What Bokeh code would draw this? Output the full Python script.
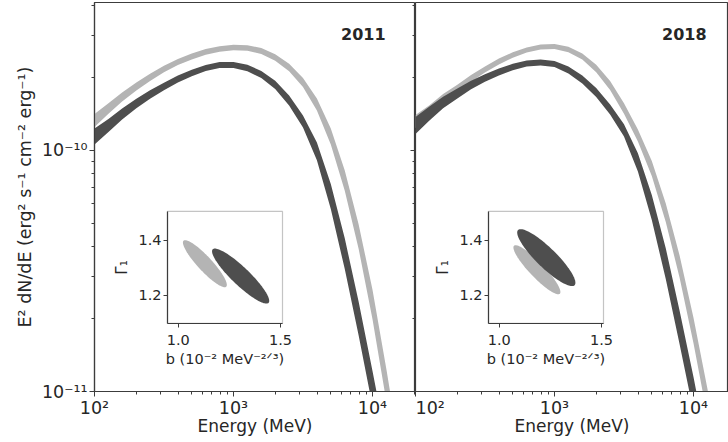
import numpy as np
from bokeh.plotting import figure
from bokeh.layouts import row
from bokeh.models import (Range1d, LinearScale, LogAxis, LinearAxis, FixedTicker,
                          CustomJSTickFormatter, BoxAnnotation, Label)
from bokeh.embed import file_html
from bokeh.resources import INLINE

# ---------------- data ----------------
years = ["2011", "2018"]

energy_dark = [100, 126, 158, 200, 251, 316, 398, 501, 631, 794, 1000, 1259, 1585, 1995,
               2512, 3162, 3981, 5012, 6310, 7943, 10000, 12589]
energy_light = energy_dark + [15849]

flux_dark_2011 = [1.143e-10, 1.270e-10, 1.418e-10, 1.567e-10, 1.707e-10, 1.843e-10, 1.980e-10,
                  2.097e-10, 2.199e-10, 2.263e-10, 2.263e-10, 2.199e-10, 2.067e-10, 1.870e-10,
                  1.612e-10, 1.319e-10, 9.91e-11, 6.44e-11, 3.74e-11, 2.009e-11, 1.029e-11, 5.17e-12]
unc_dark_2011 = [0.0332, 0.0270, 0.0228, 0.0199, 0.0174, 0.0158, 0.0145, 0.0137, 0.0129, 0.0124,
                 0.0124, 0.0133, 0.0145, 0.0170, 0.0205, 0.0245, 0.0370, 0.0520, 0.0640, 0.0700,
                 0.0730, 0.0730]
flux_light_2011 = [1.332e-10, 1.494e-10, 1.667e-10, 1.843e-10, 2.009e-10, 2.179e-10, 2.329e-10,
                   2.455e-10, 2.563e-10, 2.638e-10, 2.676e-10, 2.663e-10, 2.588e-10, 2.431e-10,
                   2.210e-10, 1.915e-10, 1.552e-10, 1.143e-10, 7.51e-11, 4.40e-11, 2.296e-11,
                   1.059e-11, 4.70e-12]
unc_light_2011 = [0.0270, 0.0220, 0.0187, 0.0166, 0.0149, 0.0137, 0.0129, 0.0124, 0.0120, 0.0116,
                  0.0116, 0.0116, 0.0124, 0.0137, 0.0158, 0.0185, 0.0250, 0.0330, 0.0420, 0.0510,
                  0.0610, 0.0670, 0.0690]

flux_dark_2018 = [1.270e-10, 1.424e-10, 1.582e-10, 1.724e-10, 1.870e-10, 1.999e-10, 2.117e-10,
                  2.221e-10, 2.296e-10, 2.318e-10, 2.285e-10, 2.158e-10, 1.970e-10, 1.740e-10,
                  1.479e-10, 1.211e-10, 8.92e-11, 5.80e-11, 3.40e-11, 1.843e-11, 9.72e-12, 4.93e-12]
unc_dark_2018 = [0.0353, 0.0290, 0.0241, 0.0207, 0.0178, 0.0158, 0.0145, 0.0133, 0.0124, 0.0124,
                 0.0124, 0.0145, 0.0162, 0.0187, 0.0210, 0.0255, 0.0380, 0.0520, 0.0640, 0.0690,
                 0.0720, 0.0730]
flux_light_2018 = [1.319e-10, 1.466e-10, 1.643e-10, 1.808e-10, 1.990e-10, 2.168e-10, 2.340e-10,
                   2.490e-10, 2.612e-10, 2.689e-10, 2.702e-10, 2.625e-10, 2.455e-10, 2.189e-10,
                   1.861e-10, 1.494e-10, 1.154e-10, 8.42e-11, 5.53e-11, 3.30e-11, 1.791e-11,
                   9.00e-12, 4.27e-12]
unc_light_2018 = [0.0270, 0.0220, 0.0183, 0.0158, 0.0141, 0.0129, 0.0120, 0.0112, 0.0108, 0.0104,
                  0.0104, 0.0112, 0.0127, 0.0154, 0.0183, 0.0216, 0.0249, 0.0311, 0.0386, 0.0461,
                  0.0527, 0.0581, 0.0602]

# inset confidence ellipses: (b, Gamma1) centres, sigmas and correlation  [light, dark]
ell_b_2011 = [1.130, 1.305]
ell_g_2011 = [1.315, 1.270]
ell_sb_2011 = [0.1075, 0.140]
ell_sg_2011 = [0.0855, 0.100]
ell_rho_2011 = [-0.90, -0.90]

ell_b_2018 = [1.184, 1.230]
ell_g_2018 = [1.293, 1.337]
ell_sb_2018 = [0.115, 0.1425]
ell_sg_2018 = [0.089, 0.1035]
ell_rho_2018 = [-0.907, -0.882]

x_major = [100, 1000, 10000]
y_major = [1e-11, 1e-10]
inset_b_ticks = [1.0, 1.5]
inset_g_ticks = [1.2, 1.4]

# ---------------- style ----------------
FONT = "DejaVu Sans"
TXT = "#262626"
LINE = "#3c3c3c"
LIGHT = "#b4b4b4"
DARK = "#4e4e4e"
FH = 389
DPX = 139.0
Y_MIN, Y_MAX = 1e-11, 10 ** -9.386
B0, B1 = 0.947, 1.51
G0, G1 = 1.098, 1.505

x_minor = [m * 10 ** k for k in (2, 3) for m in range(2, 10)] + [20000]
y_minor = [m * 10 ** k for k in (-11,) for m in range(2, 10)] + [2e-10, 3e-10, 4e-10]

sup_code = """
const m = {"-":"\u207b","0":"\u2070","1":"\u00b9","2":"\u00b2","3":"\u00b3","4":"\u2074",
           "5":"\u2075","6":"\u2076","7":"\u2077","8":"\u2078","9":"\u2079"};
const e = Math.round(Math.log10(tick));
return "10" + String(e).split("").map(c => m[c]).join("");
"""


def base_axis(ax):
    ax.axis_line_color = LINE
    ax.axis_line_width = 1.2
    ax.major_tick_line_color = LINE
    ax.minor_tick_line_color = LINE
    ax.major_label_text_font = FONT
    ax.major_label_text_color = TXT
    ax.axis_label_text_font = FONT
    ax.axis_label_text_color = TXT
    ax.axis_label_text_font_style = "normal"
    ax.major_tick_in = 0
    ax.minor_tick_in = 0


def ellipse_xy(bc, gc, sb, sg, rho):
    t = np.linspace(0, 2 * np.pi, 120)
    cov = np.array([[sb ** 2, rho * sb * sg], [rho * sb * sg, sg ** 2]])
    L = np.linalg.cholesky(cov)
    pts = L @ np.vstack([np.cos(t), np.sin(t)])
    return bc + pts[0], gc + pts[1]


def make_panel(year, fw, dark, light, ell, left):
    p = figure(x_axis_type="log", y_axis_type="log",
               y_axis_location="left" if left else None,
               x_range=Range1d(100, 10 ** (2 + fw / DPX)), y_range=Range1d(Y_MIN, Y_MAX),
               frame_width=fw, frame_height=FH,
               min_border_left=94 if left else 0, min_border_right=0,
               min_border_top=2, min_border_bottom=0,
               output_backend="svg", toolbar_location=None)
    p.outline_line_color = LINE
    p.outline_line_width = 1.2
    p.grid.visible = False
    p.background_fill_color = "white"

    xa = p.xaxis[0]
    base_axis(xa)
    xa.ticker = FixedTicker(ticks=x_major, minor_ticks=x_minor)
    xa.formatter = CustomJSTickFormatter(code=sup_code)
    xa.major_tick_out = 5
    xa.minor_tick_out = 3
    xa.major_label_text_font_size = "17.5px"
    xa.major_label_standoff = 1
    xa.axis_label = "Energy (MeV)"
    xa.axis_label_text_font_size = "17px"
    xa.axis_label_standoff = -5

    if left:
        ya = p.yaxis[0]
        base_axis(ya)
        ya.ticker = FixedTicker(ticks=y_major, minor_ticks=y_minor)
        ya.formatter = CustomJSTickFormatter(code=sup_code)
        ya.major_tick_out = 5
        ya.minor_tick_out = 3
        ya.major_label_text_font_size = "17.5px"
        ya.major_label_standoff = 2
        ya.axis_label = "E\u00b2 dN/dE (erg\u00b2 s\u207b\u00b9 cm\u207b\u00b2 erg\u207b\u00b9)"
        ya.axis_label_text_font_size = "17.5px"
        ya.axis_label_standoff = 4
        # ticks of the second panel's left axis (pointing outward = into this panel)
        ra = LogAxis()
        base_axis(ra)
        ra.axis_line_color = None
        ra.ticker = FixedTicker(ticks=y_major, minor_ticks=y_minor)
        ra.major_tick_out = 0
        ra.minor_tick_out = 0
        ra.major_tick_in = 5
        ra.minor_tick_in = 3
        ra.major_label_standoff = 0
        ra.major_label_text_font_size = "0px"
        ra.formatter = CustomJSTickFormatter(code="return ''")
        p.add_layout(ra, "right")

    for e, (f, u), col in ((energy_light, light, LIGHT), (energy_dark, dark, DARK)):
        f = np.asarray(f)
        u = np.asarray(u)
        p.varea(x=e, y1=f / 10 ** u, y2=f * 10 ** u, fill_color=col)

    p.add_layout(Label(x=10 ** 4.094, y=10 ** -9.515, text=year, text_align="right",
                       text_baseline="alphabetic", text_font=FONT, text_font_size="16px",
                       text_font_style="bold", text_color=TXT))

    # ---- inset (b, Gamma1) on extra linear ranges ----
    ix0, ix1 = 73, 188
    iy0, iy1 = FH * (1 - 0.825), FH * (1 - 0.537)
    ux = (B1 - B0) / (ix1 - ix0)
    uy = (G1 - G0) / (iy1 - iy0)
    xs0 = B0 - ix0 * ux
    ys0 = G0 - iy0 * uy
    p.extra_x_ranges = {"ib": Range1d(xs0, xs0 + fw * ux)}
    p.extra_y_ranges = {"ig": Range1d(ys0, ys0 + FH * uy)}
    p.extra_x_scales = {"ib": LinearScale()}
    p.extra_y_scales = {"ig": LinearScale()}

    p.add_layout(BoxAnnotation(left=B0, right=B1, bottom=G0, top=G1,
                               x_range_name="ib", y_range_name="ig",
                               fill_color="white", fill_alpha=1.0,
                               line_color=LINE, line_width=1.2, level="underlay"))
    for i, col in enumerate((LIGHT, DARK)):
        ex, ey = ellipse_xy(ell[0][i], ell[1][i], ell[2][i], ell[3][i], ell[4][i])
        p.patch(ex, ey, fill_color=col, line_color=None, x_range_name="ib", y_range_name="ig")

    bx = LinearAxis(x_range_name="ib", y_range_name="ig", fixed_location=G0, bounds=(B0, B1))
    base_axis(bx)
    bx.ticker = FixedTicker(ticks=inset_b_ticks, minor_ticks=[])
    bx.formatter = CustomJSTickFormatter(code="return tick.toFixed(1)")
    bx.major_tick_out = 4
    bx.minor_tick_out = 0
    bx.major_label_text_font_size = "14.5px"
    bx.major_label_standoff = 8
    bx.axis_label = "b (10\u207b\u00b2 MeV\u207b\u00b2\u141f\u00b3)"
    bx.axis_label_text_font_size = "14.5px"
    bx.axis_label_standoff = 2
    p.add_layout(bx, "below")

    gy = LinearAxis(x_range_name="ib", y_range_name="ig", fixed_location=B0, bounds=(G0, G1))
    base_axis(gy)
    gy.ticker = FixedTicker(ticks=inset_g_ticks, minor_ticks=[])
    gy.formatter = CustomJSTickFormatter(code="return tick.toFixed(1)")
    gy.major_tick_out = 4
    gy.minor_tick_out = 0
    gy.major_label_text_font_size = "14.5px"
    gy.major_label_standoff = 2
    gy.axis_label = "\u0393\u2081"
    gy.axis_label_text_font_size = "15px"
    gy.axis_label_standoff = 4
    p.add_layout(gy, "left")
    return p


p1 = make_panel(years[0], 321,
                (flux_dark_2011, unc_dark_2011), (flux_light_2011, unc_light_2011),
                (ell_b_2011, ell_g_2011, ell_sb_2011, ell_sg_2011, ell_rho_2011), True)
p2 = make_panel(years[1], 313,
                (flux_dark_2018, unc_dark_2018), (flux_light_2018, unc_light_2018),
                (ell_b_2018, ell_g_2018, ell_sb_2018, ell_sg_2018, ell_rho_2018), False)

layout = row(p1, p2, spacing=0)
open("out.html", "w").write(file_html(layout, INLINE))
